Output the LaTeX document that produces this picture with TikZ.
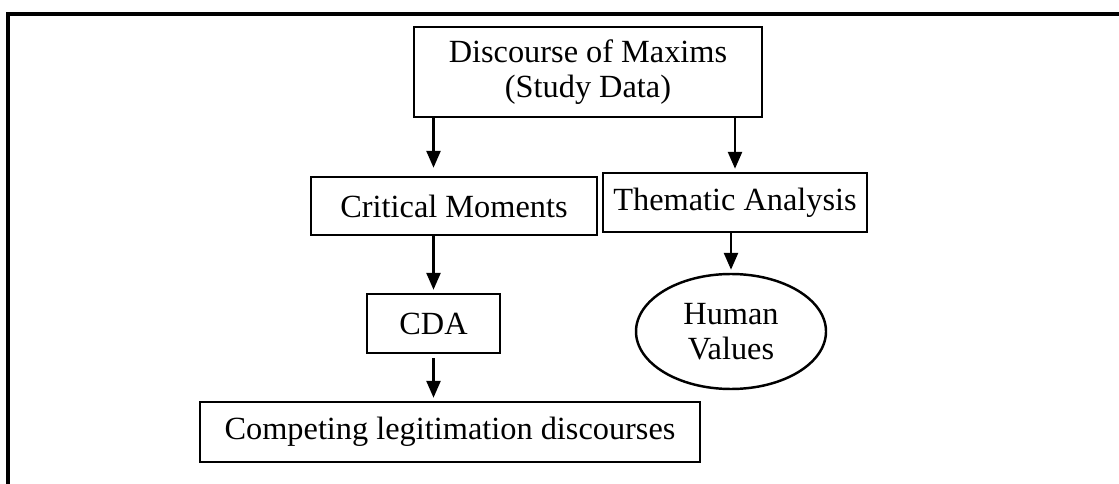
\documentclass[tikz,border=0pt]{standalone}
\usepackage{fontspec}
\setmainfont{Liberation Serif}
\usetikzlibrary{
  shapes.geometric,
  arrows.meta,
  positioning,
  calc
}
\definecolor{linecolor}{RGB}{0, 0, 0}
\definecolor{labelcolor}{RGB}{0, 0, 0}
\tikzset{
blocktext/.style={
  align=center,
  font=\fontsize{18.4}{19.9}\selectfont,
  text=labelcolor
},
arrow/.style={
  -{Triangle[length=3.4mm,width=2.8mm]},
  line width=1.5pt,
  draw=linecolor,
  shorten >=0.6mm
}
}

\begin{document}
\begin{tikzpicture}[
    % node styles
    stepbox/.style={
        rectangle,
        draw=linecolor,
        line width=1.4pt,
        inner sep=2pt,
        blocktext
    },
    valuenode/.style={
        ellipse,
        draw=linecolor,
        line width=1.4pt,
        inner sep=0pt,
        minimum width=3.8cm,
        minimum height=2.3cm,
        blocktext
    },
    framestyle/.style={line width=1.9pt, draw=linecolor, line join=miter}
]
\useasboundingbox (0,0) rectangle (22.38,-9.68);

% ============================================================================
% Frame (top and left edge)
% ============================================================================
\draw[framestyle] (0.16,-9.68) -- (0.16,-0.28) -- (22.38,-0.28);

% ============================================================================
% Data
% ============================================================================
\node[stepbox, minimum width=6.96cm, minimum height=1.8cm] (maxims) at (11.76, -1.44) {Discourse of Maxims\\(Study Data)};

% ============================================================================
% Two strands of analysis
% ============================================================================
\node[stepbox, minimum width=5.72cm, minimum height=1.16cm] (critical) at (9.08, -4.12) {Critical Moments};
\node[stepbox, minimum width=5.28cm, minimum height=1.18cm] (thematic) at (14.70, -4.05) {Thematic Analysis};

\node[stepbox, minimum width=2.66cm, minimum height=1.18cm] (cda) at (8.67, -6.47) {CDA};
\node[valuenode] (values) at (14.62, -6.63) {Human\\Values};

\node[stepbox, minimum width=10cm, minimum height=1.2cm] (legit) at (9.00, -8.64) {Competing legitimation discourses};

% ============================================================================
% Arrows
% ============================================================================
\draw[arrow, shorten >=1.6mm] (maxims.south -| cda.north) -- (critical.north -| cda.north);
\draw[arrow] (maxims.south -| thematic.north) -- (thematic.north);
\draw[arrow] (critical.south -| cda.north) -- (cda.north);
\draw[arrow, shorten <=0.8mm] (cda.south) -- (legit.north -| cda.south);
\draw[arrow] (thematic.south -| values.north) -- (values.north);

\end{tikzpicture}
\end{document}
